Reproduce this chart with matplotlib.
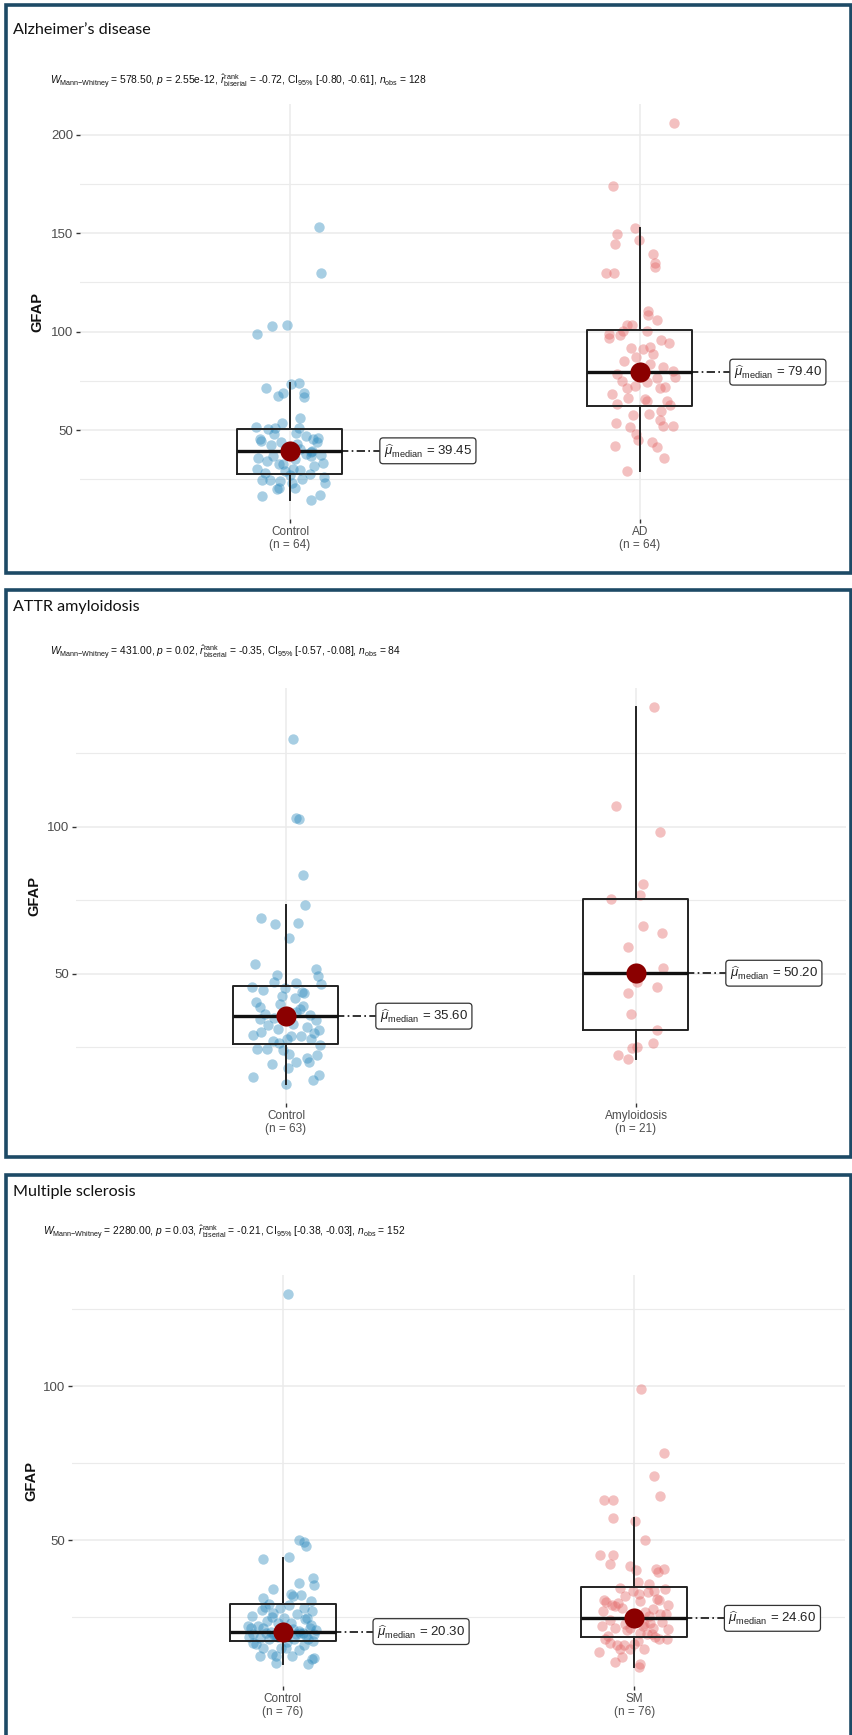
import numpy as np
import matplotlib
matplotlib.use('Agg')
import matplotlib.pyplot as plt
from matplotlib import font_manager
from matplotlib.patches import Rectangle


def pick_font(names):
    for n in names:
        try:
            font_manager.findfont(n, fallback_to_default=False)
            return n
        except ValueError:
            pass
    return 'DejaVu Sans'


NARROW = pick_font(['Liberation Sans Narrow', 'Liberation Sans'])
SANS = 'Liberation Sans'
TITLE_FONT = pick_font(['Lato', 'Open Sans'])

plt.rcParams['mathtext.fontset'] = 'custom'
plt.rcParams['mathtext.rm'] = NARROW
plt.rcParams['mathtext.it'] = NARROW + ':italic'
plt.rcParams['mathtext.bf'] = NARROW + ':bold'

# ---- data ----
titles = ["Alzheimer\u2019s disease", "ATTR amyloidosis", "Multiple sclerosis"]
group_names = [["Control", "AD"], ["Control", "Amyloidosis"], ["Control", "SM"]]
group_n = [[64, 64], [63, 21], [76, 76]]

w_stat = ["578.50", "431.00", "2280.00"]
p_val = ["2.55e-12", "0.02", "0.03"]
r_rank = ["-0.72", "-0.35", "-0.21"]
ci_low = ["-0.80", "-0.57", "-0.38"]
ci_high = ["-0.61", "-0.08", "-0.03"]
n_obs = [128, 84, 152]

# Alzheimer's: control
ad_ctrl_gfap = [153.1, 129.9, 98.6, 102.6, 103.1, 73.6, 74.0, 71.6, 68.9, 67.4,
                68.9, 66.8, 56.3, 53.7, 51.7, 50.3, 50.9, 50.9, 48.6, 47.0,
                46.1, 45.3, 45.3, 44.4, 44.1, 44.1, 39.4, 40.2, 36.8, 34.3,
                35.1, 36.8, 33.4, 32.6, 30.4, 29.2, 30.1, 27.5, 24.9, 24.4,
                24.4, 26.1, 23.2, 24.1, 22.9, 20.8, 20.0, 20.5, 16.3, 16.9,
                14.4, 42.5, 38.0, 41.0, 31.5, 28.3, 37.5, 43.0, 33.0, 27.0,
                47.8, 35.8, 29.8, 39.0]
ad_ctrl_jit = [0.084, 0.088, -0.093, -0.050, -0.008, 0.002, 0.026, -0.069, -0.019, -0.033,
               0.040, 0.041, 0.029, -0.024, -0.097, -0.064, -0.042, 0.027, 0.017, 0.046,
               0.081, 0.067, -0.086, -0.084, -0.026, 0.076, 0.062, 0.029, -0.048, -0.067,
               0.014, 0.059, 0.093, -0.019, -0.093, -0.014, 0.010, 0.057, 0.033, -0.081,
               -0.057, 0.098, 0.100, -0.029, 0.005, -0.031, -0.038, 0.014, -0.081, 0.086,
               0.059, -0.055, 0.045, -0.010, 0.070, -0.072, 0.088, 0.020, -0.030, 0.000,
               -0.045, -0.090, 0.030, 0.060]
# Alzheimer's: AD
ad_case_gfap = [206.0, 174.1, 152.6, 149.7, 144.4, 146.4, 139.3, 134.9, 132.8, 129.8,
                129.8, 110.2, 108.5, 106.0, 103.1, 103.1, 100.5, 100.5, 98.8, 96.8,
                98.5, 94.0, 91.8, 91.1, 92.0, 88.6, 81.8, 79.8, 77.1, 78.4,
                76.2, 74.2, 71.3, 72.5, 72.0, 71.6, 66.1, 65.7, 64.9, 64.9,
                63.2, 57.8, 58.0, 59.7, 55.0, 53.6, 51.6, 52.1, 51.8, 47.9,
                44.8, 44.1, 41.4, 41.9, 36.0, 29.4, 85.0, 79.4, 83.5, 68.5,
                87.0, 62.5, 95.5, 75.0]
ad_case_jit = [0.098, -0.076, -0.015, -0.067, -0.070, -0.002, 0.038, 0.043, 0.044, -0.097,
               -0.073, 0.024, 0.024, 0.048, -0.038, -0.024, -0.048, 0.019, -0.089, -0.089,
               -0.057, 0.082, -0.026, 0.010, 0.029, 0.036, 0.067, 0.095, 0.100, -0.067,
               0.050, 0.019, -0.038, -0.014, 0.071, 0.057, -0.033, 0.014, 0.019, 0.078,
               -0.067, -0.019, 0.027, 0.059, 0.057, -0.069, -0.029, 0.067, 0.095, -0.010,
               -0.005, 0.033, 0.048, -0.070, 0.069, -0.038, -0.045, 0.000, 0.030, -0.080,
               -0.010, 0.085, 0.060, -0.050]

# ATTR: control
attr_ctrl_gfap = [129.8, 102.9, 102.5, 83.5, 73.4, 69.1, 66.8, 67.4, 62.1, 53.4,
                  51.5, 49.5, 49.2, 47.2, 46.9, 46.4, 45.5, 44.4, 45.0, 43.9,
                  43.3, 41.9, 39.9, 38.7, 38.2, 35.9, 34.2, 31.9, 31.3, 30.8,
                  29.3, 30.2, 29.0, 29.0, 27.3, 27.9, 25.9, 24.5, 24.5, 24.1,
                  22.7, 22.5, 19.5, 19.9, 19.9, 17.9, 15.0, 13.8, 15.6, 12.5,
                  36.5, 33.0, 40.5, 28.0, 32.5, 37.0, 42.5, 26.5, 21.5, 34.8,
                  30.0, 39.0, 35.0]
attr_ctrl_jit = [0.021, 0.029, 0.037, 0.050, 0.054, -0.070, -0.030, 0.035, 0.009, -0.089,
                 0.086, -0.027, 0.092, -0.033, 0.029, 0.099, -0.098, -0.065, -0.003, 0.045,
                 0.051, 0.026, -0.017, -0.074, 0.040, 0.069, 0.086, 0.059, -0.022, 0.094,
                 -0.095, -0.070, 0.014, 0.043, -0.038, 0.002, 0.097, -0.084, -0.055, -0.008,
                 0.010, 0.088, -0.041, 0.029, 0.067, 0.007, -0.095, 0.076, 0.095, -0.001,
                 -0.060, 0.020, -0.085, 0.072, -0.050, 0.030, -0.010, -0.020, 0.060, -0.075,
                 0.080, 0.050, -0.035]
# ATTR: amyloidosis
attr_case_gfap = [140.7, 107.1, 98.1, 80.4, 76.7, 75.3, 66.3, 64.0, 59.1, 52.1,
                  47.1, 45.4, 43.5, 36.4, 30.9, 26.4, 24.8, 25.0, 22.5, 21.0, 50.0]
attr_case_jit = [0.051, -0.058, 0.069, 0.021, 0.011, -0.071, 0.021, 0.075, -0.022, 0.078,
                 0.002, 0.059, -0.024, -0.014, 0.059, 0.048, -0.012, 0.002, -0.050, -0.022, 0.007]

# MS: control
ms_ctrl_gfap = [130.0, 50.1, 49.4, 48.0, 43.9, 44.4, 37.8, 35.5, 36.2, 34.2,
                32.5, 31.7, 32.2, 31.2, 30.3, 29.3, 28.9, 28.0, 27.8, 26.4,
                26.9, 25.3, 25.0, 24.6, 23.2, 24.3, 21.6, 21.6, 19.4, 20.0,
                21.6, 19.4, 19.4, 20.0, 18.4, 16.2, 17.8, 18.4, 17.8, 18.0,
                15.1, 13.0, 12.4, 15.1, 12.4, 12.4, 10.1, 11.4, 11.7, 9.8,
                15.1, 22.0, 20.5, 19.0, 18.8, 21.0, 23.8, 17.0, 16.5, 20.3,
                22.5, 19.8, 18.2, 21.2, 26.0, 27.2, 16.0, 14.2, 23.0, 20.8,
                18.6, 24.8, 22.2, 17.4, 19.2, 28.4]
ms_ctrl_jit = [0.016, 0.046, 0.059, 0.066, -0.055, 0.019, 0.085, 0.090, 0.047, -0.027,
               0.024, 0.028, 0.052, -0.057, 0.081, -0.038, 0.019, -0.009, 0.059, -0.028,
               0.084, -0.088, -0.030, 0.002, 0.024, 0.062, -0.090, -0.057, -0.085, -0.047,
               0.076, 0.090, 0.038, 0.057, -0.097, -0.076, -0.038, -0.014, 0.033, 0.071,
               -0.057, -0.030, -0.019, -0.005, 0.027, -0.066, -0.019, 0.084, 0.090, 0.071,
               0.010, -0.070, 0.045, -0.020, 0.065, 0.030, -0.045, 0.012, -0.085, -0.035,
               0.080, 0.050, -0.065, -0.005, 0.040, -0.060, 0.060, 0.045, -0.015, 0.095,
               0.005, 0.070, -0.100, 0.085, -0.025, -0.050]
# MS: SM
ms_case_gfap = [99.2, 78.4, 70.9, 64.4, 63.0, 63.0, 57.1, 56.3, 50.1, 45.2,
                45.2, 42.3, 41.7, 40.2, 40.6, 40.7, 39.8, 35.8, 34.2, 33.6,
                31.8, 32.5, 33.4, 30.2, 30.5, 28.9, 30.5, 28.9, 28.0, 27.5,
                25.4, 25.9, 22.1, 21.6, 22.9, 22.9, 21.6, 20.0, 19.4, 19.4,
                17.8, 17.8, 16.7, 15.9, 17.4, 16.4, 13.8, 14.5, 14.5, 14.5,
                10.5, 11.9, 9.8, 8.7, 21.6, 24.0, 26.5, 29.5, 31.0, 23.5,
                20.8, 18.5, 27.0, 33.0, 24.6, 22.0, 19.0, 36.5, 26.0, 16.0,
                28.5, 21.0, 30.0, 23.0, 34.5, 18.0]
ms_case_jit = [0.020, 0.084, 0.055, 0.074, -0.085, -0.059, -0.059, 0.001, 0.031, -0.097,
               -0.061, -0.068, -0.013, 0.006, 0.062, 0.086, 0.067, 0.041, 0.088, 0.055,
               -0.026, 0.015, -0.004, 0.017, -0.087, -0.064, 0.072, 0.096, -0.035, 0.053,
               0.041, 0.074, -0.092, -0.056, -0.026, 0.027, 0.053, 0.017, 0.036, 0.050,
               0.093, -0.083, -0.068, -0.049, 0.012, 0.000, -0.099, -0.040, -0.011, 0.027,
               -0.056, -0.035, 0.017, 0.014, -0.011, -0.070, 0.030, -0.045, 0.065, 0.080,
               -0.020, 0.060, -0.090, 0.040, -0.010, 0.025, -0.075, 0.010, 0.090, -0.030,
               -0.055, 0.095, -0.080, 0.045, -0.040, 0.070]

# box stats per group: q1, median, q3, lower whisker, upper whisker
box_q1 = [[27.5, 62.2], [26.2, 31.0], [17.1, 18.4]]
box_med = [[39.45, 79.40], [35.60, 50.20], [20.30, 24.60]]
box_q3 = [[50.5, 101.0], [46.0, 75.3], [29.1, 34.8]]
box_lo = [[14.4, 29.4], [12.5, 21.0], [9.8, 8.7]]
box_hi = [[74.0, 152.6], [73.4, 140.7], [44.2, 57.1]]

y_ticks = [[50, 100, 150, 200], [50, 100], [50, 100]]

values = [[ad_ctrl_gfap, ad_case_gfap], [attr_ctrl_gfap, attr_case_gfap], [ms_ctrl_gfap, ms_case_gfap]]
jitters = [[ad_ctrl_jit, ad_case_jit], [attr_ctrl_jit, attr_case_jit], [ms_ctrl_jit, ms_case_jit]]

# ---- layout (pixels of the 853 x 1735 canvas) ----
W, H = 853, 1735
frames = [(6, 5, 851, 573), (6, 590, 851, 1157), (6, 1175, 851, 1745)]
axes_px = [(80, 104, 850, 519), (76, 688, 846, 1103), (72, 1275, 845, 1686)]
title_px = [(13, 30), (13, 607), (13, 1192)]
sub_px = [(50, 82), (50, 653), (43, 1233)]
ylab_px = [44, 41, 38]

BORDER = '#1d4a66'
PT_COLORS = ['#2E8BBE', '#E46A6A']
GRID = '#EBEBEB'
TXT = '#4D4D4D'

fig = plt.figure(figsize=(W / 100, H / 100), dpi=100)

for i in range(3):
    x0, y0, x1, y1 = frames[i]
    fig.patches.append(Rectangle((x0 / W, 1 - y1 / H), (x1 - x0) / W, (y1 - y0) / H,
                                 transform=fig.transFigure, fill=False,
                                 edgecolor=BORDER, linewidth=2.6, zorder=0))
    fig.text(title_px[i][0] / W, 1 - title_px[i][1] / H, titles[i],
             fontsize=11.6, family=TITLE_FONT, color='#111111', va='center', ha='left')

    sub = (r'$W_{\mathrm{Mann{-}Whitney}}$ = ' + w_stat[i] + ', $p$ = ' + p_val[i] + ', '
           r'$\hat{r}_{\mathrm{biserial}}^{\mathrm{rank}}$ = ' + r_rank[i] + ', '
           r'$\mathrm{CI}_{95\%}$ [' + ci_low[i] + ', ' + ci_high[i] + '], '
           r'$n_{\mathrm{obs}}$ = ' + str(n_obs[i]))
    fig.text(sub_px[i][0] / W, 1 - sub_px[i][1] / H, sub,
             fontsize=7.4, family=NARROW, color='#111111', va='center', ha='left')

    l, t, r, b = axes_px[i]
    ax = fig.add_axes([l / W, 1 - b / H, (r - l) / W, (b - t) / H])

    allv = np.concatenate([np.asarray(v) for v in values[i]])
    lo, hi = allv.min(), allv.max()
    pad = 0.05 * (hi - lo)
    ax.set_ylim(lo - pad, hi + pad)
    ax.set_xlim(0.4, 2.6)

    ticks = y_ticks[i]
    minor = [tk - 25 for tk in ticks] + [ticks[-1] + 25]
    minor = [m for m in minor if lo - pad < m < hi + pad]
    ax.set_yticks(ticks)
    ax.set_yticks(minor, minor=True)
    ax.set_xticks([1, 2])
    ax.set_xticklabels([f'{g}\n(n = {n})' for g, n in zip(group_names[i], group_n[i])])
    for s in ax.spines.values():
        s.set_visible(False)
    ax.grid(True, which='major', color=GRID, linewidth=1.1, zorder=0)
    ax.grid(True, which='minor', axis='y', color=GRID, linewidth=0.8, zorder=0)
    ax.set_axisbelow(True)
    ax.tick_params(axis='both', which='major', length=3, width=1, color='#333333',
                   labelcolor=TXT)
    ax.tick_params(axis='y', which='minor', length=0)
    ax.tick_params(axis='y', labelsize=9.5, pad=2)
    ax.tick_params(axis='x', labelsize=8.5, pad=2)
    for lab in ax.get_xticklabels() + ax.get_yticklabels():
        lab.set_family(SANS)
    for lab in ax.get_xticklabels():
        lab.set_linespacing(1.1)

    ax.set_ylabel('GFAP', fontsize=10.5, fontweight='bold', family=SANS, color='#111111')
    ax.yaxis.set_label_coords((ylab_px[i] - l) / (r - l), 0.5)

    for k in range(2):
        xs = (k + 1) + np.asarray(jitters[i][k])
        ax.scatter(xs, values[i][k], s=56, color=PT_COLORS[k], alpha=0.42,
                   linewidths=0, zorder=2)

    stats = [dict(q1=box_q1[i][k], med=box_med[i][k], q3=box_q3[i][k],
                  whislo=box_lo[i][k], whishi=box_hi[i][k], fliers=[])
             for k in range(2)]
    ax.bxp(stats, positions=[1, 2], widths=0.3, showfliers=False, showcaps=False,
           patch_artist=False,
           boxprops=dict(color='#222222', linewidth=1.4),
           whiskerprops=dict(color='#222222', linewidth=1.4),
           medianprops=dict(color='#111111', linewidth=2.4),
           manage_ticks=False, zorder=3)

    for k in range(2):
        xc, m = k + 1, box_med[i][k]
        ax.plot([xc, xc + 0.257], [m, m], color='#111111', linestyle=(0, (5, 2, 1, 2)),
                linewidth=1.2, zorder=3)
        ax.scatter([xc], [m], s=210, color='#8B0000', zorder=4, linewidths=0)
        ax.text(xc + 0.268, m, r'$\widehat{\mu}_{\mathrm{median}}$' + f' = {m:.2f}',
                fontsize=9.5, family=SANS, color='#222222', va='center', ha='left',
                bbox=dict(boxstyle='round,pad=0.3,rounding_size=0.25', fc='white',
                          ec='#333333', lw=0.9), zorder=5)

fig.savefig('out.png', dpi=100)
